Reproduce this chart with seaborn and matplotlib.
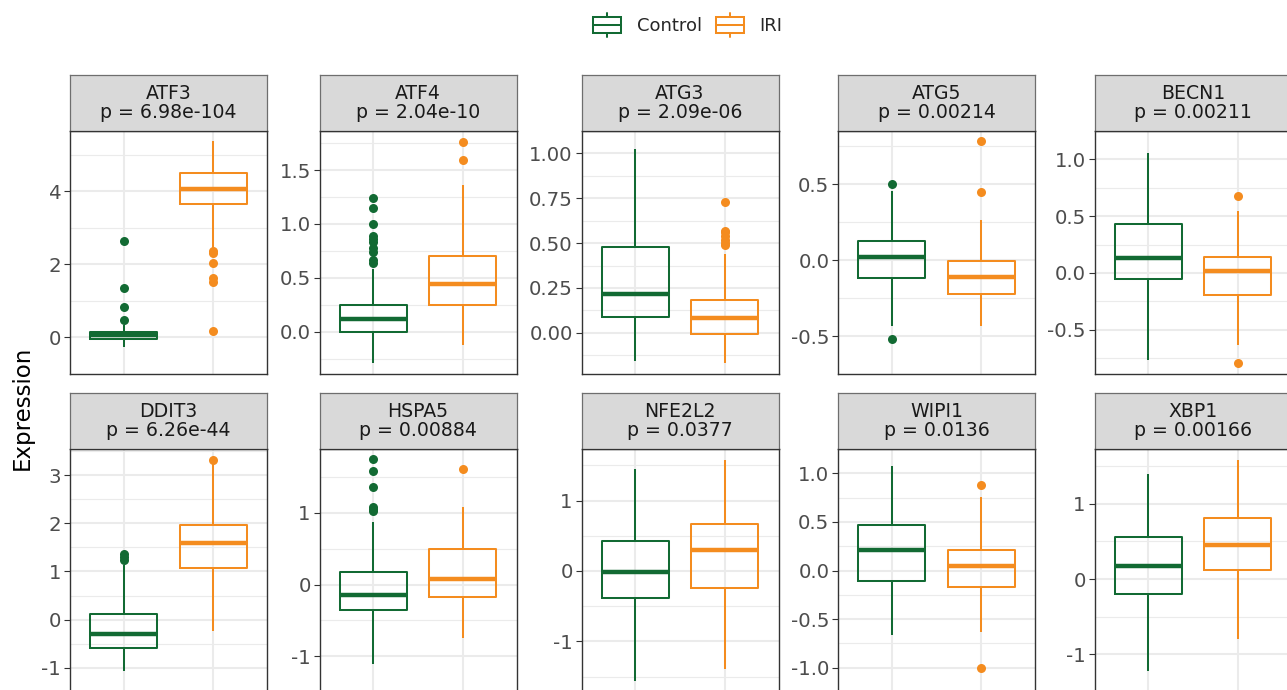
import numpy as np
import pandas as pd
import matplotlib
matplotlib.use("Agg")
import matplotlib.pyplot as plt
from matplotlib.legend_handler import HandlerBase
from matplotlib.patches import Rectangle, Patch
from matplotlib.lines import Line2D
import seaborn as sns

# ---------------------------------------------------------------- data
genes = ["ATF3", "ATF4", "ATG3", "ATG5", "BECN1",
         "DDIT3", "HSPA5", "NFE2L2", "WIPI1", "XBP1"]
p_labels = ["6.98e-104", "2.04e-10", "2.09e-06", "0.00214", "0.00211",
            "6.26e-44", "0.00884", "0.0377", "0.0136", "0.00166"]
groups = ["Control", "IRI"]

# Control: quartiles, whisker ends and outlying samples per gene
ctrl_q1 = [-0.035, 0.0, 0.09, -0.118, -0.05, -0.59, -0.353, -0.388, -0.113, -0.194]
ctrl_med = [0.06, 0.114, 0.217, 0.022, 0.131, -0.30, -0.142, -0.014, 0.208, 0.177]
ctrl_q3 = [0.15, 0.25, 0.477, 0.127, 0.432, 0.125, 0.172, 0.426, 0.469, 0.557]
ctrl_lo = [-0.27, -0.29, -0.156, -0.431, -0.766, -1.07, -1.11, -1.56, -0.667, -1.219]
ctrl_hi = [0.34, 0.58, 1.023, 0.457, 1.056, 1.14, 0.87, 1.447, 1.079, 1.397]
ctrl_out = [[0.47, 0.83, 1.36, 2.65],
            [0.64, 0.67, 0.74, 0.78, 0.83, 0.86, 0.89, 1.0, 1.15, 1.24],
            [],
            [-0.52, 0.5],
            [],
            [1.23, 1.29, 1.36],
            [1.03, 1.06, 1.09, 1.36, 1.59, 1.75],
            [], [], []]

# IRI: quartiles, whisker ends and outlying samples per gene
iri_q1 = [3.66, 0.245, -0.009, -0.225, -0.195, 1.076, -0.177, -0.236, -0.173, 0.114]
iri_med = [4.06, 0.44, 0.08, -0.114, 0.019, 1.59, 0.082, 0.298, 0.05, 0.451]
iri_q3 = [4.49, 0.70, 0.185, -0.006, 0.139, 1.97, 0.496, 0.662, 0.214, 0.81]
iri_lo = [2.45, -0.12, -0.17, -0.435, -0.63, -0.245, -0.746, -1.395, -0.635, -0.797]
iri_hi = [5.37, 1.36, 0.44, 0.265, 0.549, 3.25, 1.078, 1.574, 0.758, 1.586]
iri_out = [[0.17, 1.53, 1.62, 2.04, 2.32, 2.38],
           [1.59, 1.76],
           [0.49, 0.50, 0.52, 0.54, 0.56, 0.57, 0.73],
           [0.447, 0.786],
           [-0.797, 0.674],
           [3.32],
           [1.61],
           [],
           [-1.006, 0.88],
           []]

y_breaks = [[0, 2, 4], [0, 0.5, 1.0, 1.5], [0, 0.25, 0.5, 0.75, 1.0],
            [-0.5, 0, 0.5], [-0.5, 0, 0.5, 1.0], [-1, 0, 1, 2, 3],
            [-1, 0, 1], [-1, 0, 1], [-1, -0.5, 0, 0.5, 1.0], [-1, 0, 1]]
y_labels = [["0", "2", "4"], ["0.0", "0.5", "1.0", "1.5"],
            ["0.00", "0.25", "0.50", "0.75", "1.00"],
            ["-0.5", "0.0", "0.5"], ["-0.5", "0.0", "0.5", "1.0"],
            ["-1", "0", "1", "2", "3"], ["-1", "0", "1"], ["-1", "0", "1"],
            ["-1.0", "-0.5", "0.0", "0.5", "1.0"], ["-1", "0", "1"]]

palette = {"Control": "#126A33", "IRI": "#F48C1F"}


def box_sample(q1, med, q3, lo, hi, out):
    """Smallest sample whose Tukey box statistics are exactly the given ones."""
    low = sorted(v for v in out if v < med)
    high = sorted(v for v in out if v > med)
    s = max(len(low), len(high)) + 1
    m = s + 2
    return (low + [lo] * (s - len(low)) + [q1] * m + [med]
            + [q3] * m + [hi] * (s - len(high)) + high)


rows = []
for i, g in enumerate(genes):
    for grp, q1, md, q3, lo, hi, out in (
        ("Control", ctrl_q1, ctrl_med, ctrl_q3, ctrl_lo, ctrl_hi, ctrl_out),
        ("IRI", iri_q1, iri_med, iri_q3, iri_lo, iri_hi, iri_out),
    ):
        for v in box_sample(q1[i], md[i], q3[i], lo[i], hi[i], out[i]):
            rows.append((g, grp, v))
df = pd.DataFrame(rows, columns=["gene", "group", "Expression"])

# ---------------------------------------------------------------- style
sns.set_theme(style="white")
plt.rcParams["font.family"] = ["DejaVu Sans"]
plt.rcParams["axes.unicode_minus"] = False

W, H = 1287, 690
fig = plt.figure(figsize=(W / 100, H / 100), dpi=100)
fig.patch.set_facecolor("white")

col_left = [70, 319.5, 581.5, 838, 1094.5]
panel_w = 197
strip_top = [75, 393]
strip_h = 56
panel_h = 243

TICK_TXT = 14.2
STRIP_TXT = 13.6
LEG_TXT = 13.0
BORDER = "#333333"
GRID = "#EBEBEB"

for i, g in enumerate(genes):
    r, c = divmod(i, 5)
    left = col_left[c] / W
    width = panel_w / W
    p_bottom = 1 - (strip_top[r] + strip_h + panel_h) / H
    ax = fig.add_axes([left, p_bottom, width, panel_h / H])
    sub = df[df["gene"] == g]
    sns.boxplot(data=sub, x="group", y="Expression", hue="group",
                order=groups, hue_order=groups, palette=palette,
                fill=False, width=0.75, linewidth=1.45, showcaps=False,
                flierprops=dict(marker="o", markersize=6.5, markeredgewidth=0),
                medianprops=dict(linewidth=3.2),
                legend=False, ax=ax)
    for ln in ax.lines:
        mk = ln.get_marker()
        if mk not in (None, "None", "", " ") and len(ln.get_xdata()):
            col = palette[groups[int(round(float(np.mean(ln.get_xdata()))))]]
            ln.set_markerfacecolor(col)
            ln.set_markeredgecolor(col)

    vals = sub["Expression"].to_numpy()
    lo_v, hi_v = vals.min(), vals.max()
    pad = 0.05 * (hi_v - lo_v)
    ax.set_ylim(lo_v - pad, hi_v + pad)
    ax.set_xlim(-0.6, 1.6)

    br = y_breaks[i]
    step = br[1] - br[0]
    minors = [br[0] - step / 2] + [b + step / 2 for b in br]
    ax.set_yticks(br)
    ax.set_yticklabels(y_labels[i])
    ax.set_yticks(minors, minor=True)
    ax.set_xticks([0, 1])
    ax.set_xticklabels([])
    ax.set_xlabel("")
    ax.set_ylabel("")

    ax.set_axisbelow(True)
    ax.grid(True, which="major", color=GRID, linewidth=1.5)
    ax.grid(True, which="minor", axis="y", color=GRID, linewidth=0.8)
    ax.tick_params(axis="y", which="major", length=4.1, width=0.8,
                   color=BORDER, labelsize=TICK_TXT, labelcolor="#4D4D4D",
                   pad=2.2, left=True)
    ax.tick_params(axis="y", which="minor", length=0)
    ax.tick_params(axis="x", length=0)
    for sp in ax.spines.values():
        sp.set_color(BORDER)
        sp.set_linewidth(1.0)

    # facet strip
    sax = fig.add_axes([left, 1 - (strip_top[r] + strip_h) / H, width, strip_h / H])
    sax.set_facecolor("#D9D9D9")
    sax.set_xticks([])
    sax.set_yticks([])
    for sp in sax.spines.values():
        sp.set_color("#6E6E6E")
        sp.set_linewidth(0.9)
    sax.spines["bottom"].set_color(BORDER)
    sax.text(0.5, 0.5, f"{g}\np = {p_labels[i]}", ha="center", va="center",
             fontsize=STRIP_TXT, color="#1A1A1A", linespacing=1.0,
             transform=sax.transAxes)

fig.text(22 / W, 1 - 408 / H, "Expression", rotation=90, ha="center",
         va="center", fontsize=16.5, color="black")


class BoxKey(HandlerBase):
    def create_artists(self, legend, orig_handle, xdescent, ydescent,
                       width, height, fontsize, trans):
        col = orig_handle.get_edgecolor()
        x0, y0 = -xdescent, -ydescent
        cx = x0 + width / 2
        b_lo = y0 + 0.17 * height
        b_hi = y0 + 0.83 * height
        rect = Rectangle((x0, b_lo), width, b_hi - b_lo, facecolor="white",
                         edgecolor=col, lw=1.45, transform=trans)
        mid = Line2D([x0, x0 + width], [y0 + height / 2] * 2, color=col,
                     lw=1.45, transform=trans)
        w1 = Line2D([cx, cx], [y0, b_lo], color=col, lw=1.45, transform=trans)
        w2 = Line2D([cx, cx], [b_hi, y0 + height], color=col, lw=1.45,
                    transform=trans)
        return [w1, w2, rect, mid]


handles = [Patch(facecolor="white", edgecolor=palette[gname]) for gname in groups]
fig.legend(handles, groups, handler_map={Patch: BoxKey()}, loc="center",
           bbox_to_anchor=(688 / W, 1 - 25 / H), ncol=2, frameon=False,
           fontsize=LEG_TXT, handlelength=1.55, handleheight=1.65,
           handletextpad=0.85, columnspacing=0.8, borderpad=0)

fig.savefig("out.png", dpi=100)
